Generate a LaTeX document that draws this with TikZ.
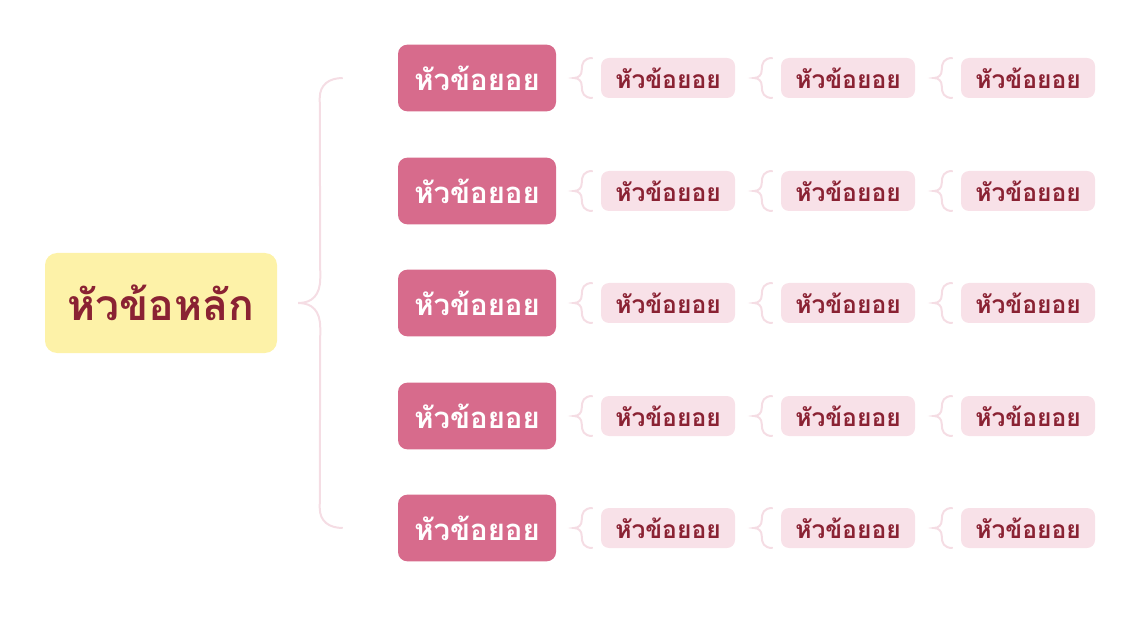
\documentclass[tikz,border=0pt]{standalone}
\usepackage{fontspec}
\newfontfamily\thaifont[Script=Thai]{Loma}
\usetikzlibrary{calc}
\definecolor{mainfill}{HTML}{FDF2A8}
\definecolor{darkred}{HTML}{8A2233}
\definecolor{subfill}{HTML}{D76B8C}
\definecolor{leaffill}{HTML}{F8E1E8}
\definecolor{bracecol}{HTML}{F5DDE4}
\tikzset{
	mainbox/.style={fill=mainfill, rounded corners=9pt, inner sep=0pt, minimum width=174pt, minimum height=75pt, text=darkred, font=\thaifont\bfseries\fontsize{32}{36}\selectfont},
	subbox/.style={fill=subfill, rounded corners=7pt, inner sep=0pt, minimum width=118.5pt, minimum height=50pt, text=white, font=\thaifont\bfseries\fontsize{22}{26}\selectfont},
	leafbox/.style={fill=leaffill, rounded corners=6pt, inner sep=0pt, minimum width=100.5pt, minimum height=30pt, text=darkred, font=\thaifont\bfseries\fontsize{18.5}{22}\selectfont},
	brace/.style={draw=bracecol, line width=1.5pt}
}
\def\smallbrace(#1){\draw[brace, shift={(#1.west)}] (-8,-20) .. controls (-17,-20) and (-19,-15) .. (-19,-8) .. controls (-19,-3) and (-22,0) .. (-27,0) .. controls (-22,0) and (-19,3) .. (-19,8) .. controls (-19,15) and (-17,20) .. (-8,20);}

\begin{document}
\begin{tikzpicture}[x=0.75pt, y=-0.75pt]
	%%%%% START %%%%%
	\useasboundingbox (0,0) rectangle (1141,623);
	
	\node[mainbox] (main) at (161,303) {หัวข้อหลัก};
	
	\node[subbox] (s1) at (477,78) {หัวข้อยอย};
	\node[subbox] (s2) at (477,191) {หัวข้อยอย};
	\node[subbox] (s3) at (477,303) {หัวข้อยอย};
	\node[subbox] (s4) at (477,416) {หัวข้อยอย};
	\node[subbox] (s5) at (477,528) {หัวข้อยอย};
	
	% big brace
	\draw[brace] ($(s1.west)+(-55,0)$) .. controls +(-14,0) and +(0,-13) .. ($(s1.west)+(-78,20)$)
		-- ($(main.east)+(43,-25)$) .. controls +(0,17) and +(14,0) .. ($(main.east)+(21,0)$)
		.. controls +(14,0) and +(0,-17) .. ($(main.east)+(43,25)$)
		-- ($(s5.west)+(-78,-20)$) .. controls +(0,13) and +(-14,0) .. ($(s5.west)+(-55,0)$);
	
	% row 1
	\node[leafbox] (l11) at (668,78) {หัวข้อยอย};
	\node[leafbox] (l12) at (848,78) {หัวข้อยอย};
	\node[leafbox] (l13) at (1028,78) {หัวข้อยอย};
	\smallbrace(l11) \smallbrace(l12) \smallbrace(l13)
	
	% row 2
	\node[leafbox] (l21) at (668,191) {หัวข้อยอย};
	\node[leafbox] (l22) at (848,191) {หัวข้อยอย};
	\node[leafbox] (l23) at (1028,191) {หัวข้อยอย};
	\smallbrace(l21) \smallbrace(l22) \smallbrace(l23)
	
	% row 3
	\node[leafbox] (l31) at (668,303) {หัวข้อยอย};
	\node[leafbox] (l32) at (848,303) {หัวข้อยอย};
	\node[leafbox] (l33) at (1028,303) {หัวข้อยอย};
	\smallbrace(l31) \smallbrace(l32) \smallbrace(l33)
	
	% row 4
	\node[leafbox] (l41) at (668,416) {หัวข้อยอย};
	\node[leafbox] (l42) at (848,416) {หัวข้อยอย};
	\node[leafbox] (l43) at (1028,416) {หัวข้อยอย};
	\smallbrace(l41) \smallbrace(l42) \smallbrace(l43)
	
	% row 5
	\node[leafbox] (l51) at (668,528) {หัวข้อยอย};
	\node[leafbox] (l52) at (848,528) {หัวข้อยอย};
	\node[leafbox] (l53) at (1028,528) {หัวข้อยอย};
	\smallbrace(l51) \smallbrace(l52) \smallbrace(l53)
	
	%%%%% END %%%%%
\end{tikzpicture}
\end{document}
